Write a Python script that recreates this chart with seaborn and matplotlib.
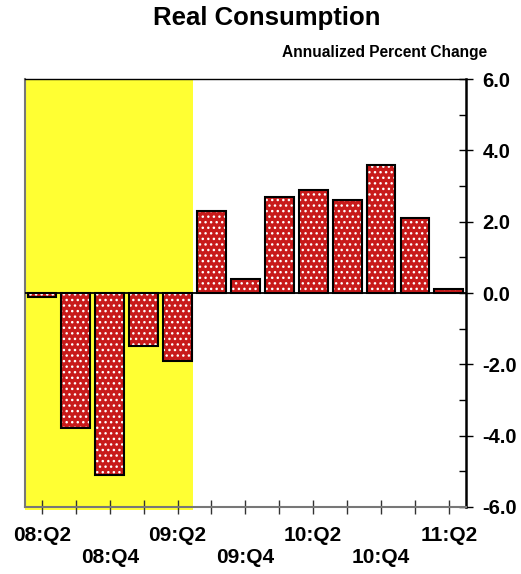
import matplotlib
matplotlib.use("Agg")
import matplotlib.pyplot as plt
import seaborn as sns
import pandas as pd
import numpy as np

quarters = ["08:Q2", "08:Q3", "08:Q4", "09:Q1", "09:Q2", "09:Q3", "09:Q4",
            "10:Q1", "10:Q2", "10:Q3", "10:Q4", "11:Q1", "11:Q2"]
values = [-0.1, -3.8, -5.1, -1.5, -1.9, 2.3, 0.4, 2.7, 2.9, 2.6, 3.6, 2.1, 0.1]
shade_span = ["08:Q2", "09:Q2"]
yticks = [-6, -4, -2, 0, 2, 4, 6]

sns.set_theme(style="white")
plt.rcParams['font.family'] = ['Liberation Sans', 'DejaVu Sans']
plt.rcParams['hatch.linewidth'] = 1.0
plt.rcParams['text.color'] = 'black'
plt.rcParams['xtick.color'] = 'black'
plt.rcParams['ytick.color'] = 'black'
plt.rcParams['xtick.labelcolor'] = 'black'
plt.rcParams['ytick.labelcolor'] = 'black'

df = pd.DataFrame({"q": quarters, "v": values})

fig = plt.figure(figsize=(5.21, 5.74), dpi=100)
ax = fig.add_axes([0.048, 0.117, 0.846, 0.745])

i0 = quarters.index(shade_span[0]); i1 = quarters.index(shade_span[1])
ax.axvspan(i0 - 0.5, i1 + 0.46, ymin=-0.008, ymax=1, color="#FFFF33", zorder=0, lw=0, clip_on=False)

sns.barplot(data=df, x="q", y="v", ax=ax, color="#C81A1A", saturation=1,
            width=0.85, edgecolor="white", linewidth=0, hatch="...", zorder=2)
for p in ax.containers[0]:
    p.set_facecolor("#C81A1A")
sns.barplot(data=df, x="q", y="v", ax=ax, fill=False, width=0.85,
            edgecolor="black", linewidth=1.5, zorder=3)

ax.axhline(0, color="black", lw=1.3, zorder=4)
ax.set_xlim(-0.5, len(quarters) - 0.5)
ax.set_ylim(-6, 6)
ax.set_xlabel("")
ax.set_ylabel("")

labels = []
for i, q in enumerate(quarters):
    if i % 4 == 0:
        labels.append(q)
    elif i % 4 == 2:
        labels.append("\n" + q)
    else:
        labels.append("")
ax.set_xticks(range(len(quarters)))
ax.set_xticklabels(labels, fontsize=15, fontweight="bold", linespacing=1.2)

ax.yaxis.tick_right()
ax.set_yticks(yticks)
ax.set_yticklabels([f"{t:.1f}" for t in yticks], fontsize=14.5, fontweight="bold")
ax.set_yticks([-5, -3, -1, 1, 3, 5], minor=True)
ax.tick_params(axis="y", which="major", direction="inout", length=10, width=1, pad=7, right=True, left=False)
ax.tick_params(axis="y", which="minor", direction="in", length=5, width=1, right=True, left=False)
ax.tick_params(axis="x", which="major", direction="inout", length=10, width=1, color="#333333", pad=9, bottom=True)

for s in ["left", "bottom"]:
    ax.spines[s].set_color("#777777")
    ax.spines[s].set_linewidth(1.5)
ax.spines["top"].set_color("black")
ax.spines["top"].set_linewidth(1)
ax.spines["right"].set_color("black")
ax.spines["right"].set_linewidth(1.8)

fig.text(0.512, 0.9695, "Real Consumption", ha="center", va="center", fontsize=18.5, fontweight="bold")
fig.text(0.935, 0.909, "Annualized Percent Change", ha="right", va="center", fontsize=11.2, fontweight="bold")

fig.savefig("out.png", dpi=100)
